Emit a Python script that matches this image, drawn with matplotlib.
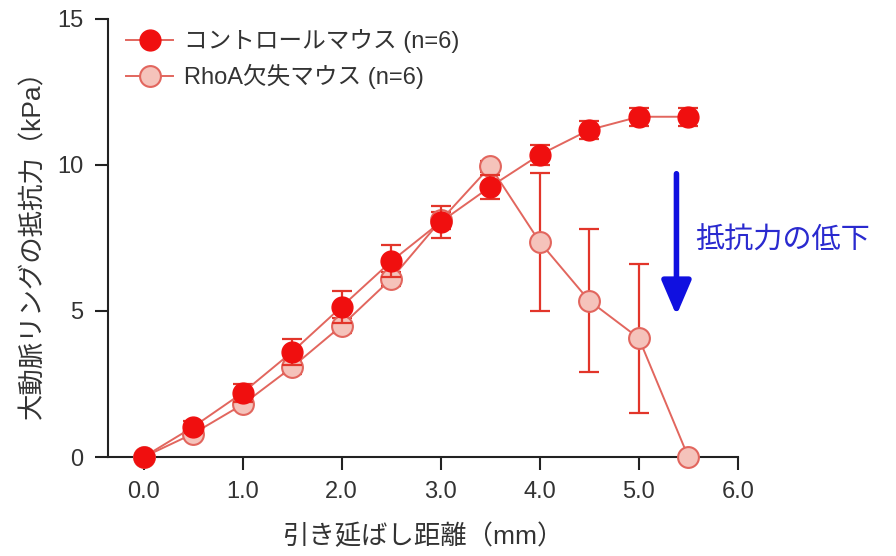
import numpy as np
import matplotlib
matplotlib.use("Agg")
import matplotlib.pyplot as plt

plt.rcParams['font.family'] = ['Liberation Sans', 'Noto Sans CJK JP']

# --- DATA ---
distance = [0.0, 0.5, 1.0, 1.5, 2.0, 2.5, 3.0, 3.5, 4.0, 4.5, 5.0, 5.5]
control_mean = [0.0, 1.03, 2.2, 3.6, 5.15, 6.7, 8.05, 9.25, 10.35, 11.2, 11.65, 11.65]
control_err = [0.05, 0.2, 0.3, 0.45, 0.55, 0.55, 0.55, 0.4, 0.35, 0.3, 0.3, 0.3]
rhoa_mean = [0.0, 0.8, 1.8, 3.08, 4.5, 6.1, 8.1, 9.95, 7.36, 5.35, 4.07, 0.0]
rhoa_err = [0.05, 0.15, 0.2, 0.25, 0.25, 0.25, 0.3, 0.2, 2.35, 2.45, 2.55, 0.05]

labels = ['コントロールマウス (n=6)', 'RhoA欠失マウス (n=6)']

fig = plt.figure(figsize=(8.96, 5.56), dpi=100)
ax = fig.add_axes([0.1205, 0.178, 0.703, 0.788])

line_c = '#e2665e'
err_c = '#e2352a'

# RhoA group (open, light fill)
ax.errorbar(distance, rhoa_mean, yerr=rhoa_err, fmt='none', ecolor=err_c,
            elinewidth=1.6, capsize=7, capthick=1.6, zorder=2, clip_on=False)
ax.plot(distance, rhoa_mean, '-', color=line_c, lw=1.4, marker='o', ms=15,
        mfc='#f5c3bb', mec='#e2665e', mew=1.5, zorder=3, clip_on=False, label=labels[1])

# control group (filled)
ax.errorbar(distance, control_mean, yerr=control_err, fmt='none', ecolor=err_c,
            elinewidth=1.6, capsize=7, capthick=1.6, zorder=4, clip_on=False)
ax.plot(distance, control_mean, '-', color=line_c, lw=1.4, marker='o', ms=15,
        mfc='#f00f0f', mec='#f00f0f', mew=1.0, zorder=5, clip_on=False, label=labels[0])

ax.set_xlim(-0.36, 6.0)
ax.set_ylim(0, 15)
ax.set_xticks([0, 1, 2, 3, 4, 5, 6])
ax.set_xticklabels(['0.0', '1.0', '2.0', '3.0', '4.0', '5.0', '6.0'])
ax.set_yticks([0, 5, 10, 15])

for s in ['top', 'right']:
    ax.spines[s].set_visible(False)
for s in ['left', 'bottom']:
    ax.spines[s].set_linewidth(1.5)
    ax.spines[s].set_color('#222222')
ax.tick_params(direction='out', length=9.5, width=1.5, labelsize=17, colors='#222222', pad=8)
for t in ax.get_xticklabels() + ax.get_yticklabels():
    t.set_color('#333333')

ax.set_xlabel('引き延ばし距離（mm）', fontsize=19, color='#333333', labelpad=15)
ax.set_ylabel('大動脈リングの抵抗力（kPa）', fontsize=19, color='#333333', labelpad=9)

handles, lbls = ax.get_legend_handles_labels()
ax.legend(handles[::-1], lbls[::-1], loc='upper left', bbox_to_anchor=(-0.005, 1.025),
          frameon=False, fontsize=17, handlelength=2.0, labelspacing=0.45,
          handletextpad=0.45, labelcolor='#333333')

# arrow for the drop in resistance
ax.annotate('', xy=(5.38, 4.85), xytext=(5.38, 9.7),
            arrowprops=dict(arrowstyle='-|>,head_length=2.1,head_width=0.9',
                            color='#1010e0', lw=4, shrinkA=0, shrinkB=0),
            annotation_clip=False)
ax.text(5.57, 7.4, '抵抗力の低下', fontsize=21, color='#2a2acf', va='center',
        ha='left', clip_on=False)

fig.savefig('out.png', dpi=100)
